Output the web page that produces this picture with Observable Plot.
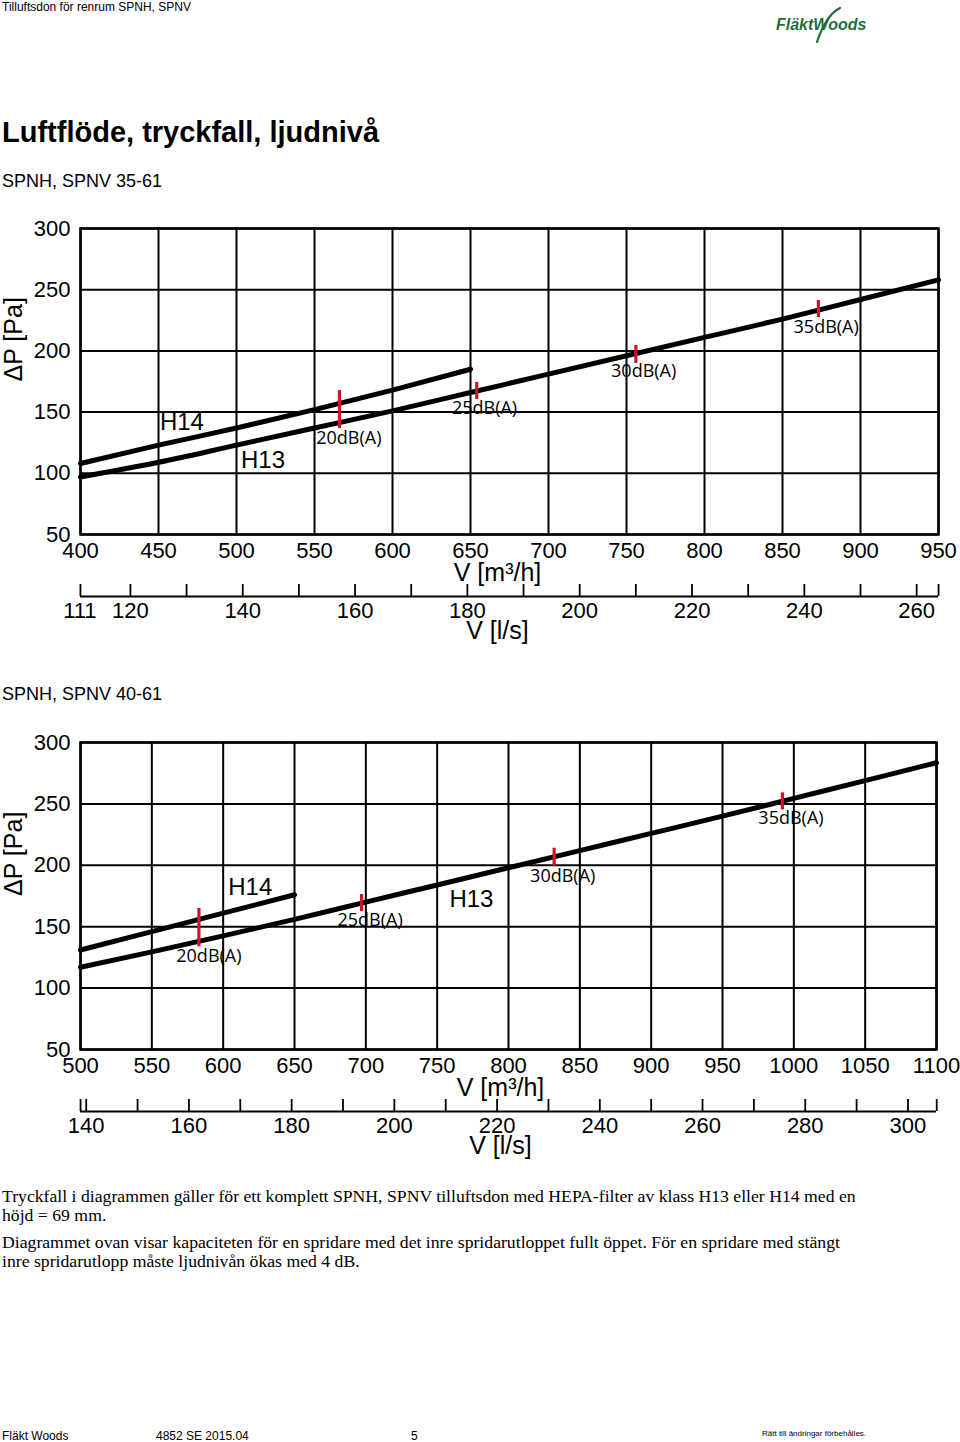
<!DOCTYPE html>
<html><head><meta charset="utf-8">
<script src="https://cdn.jsdelivr.net/npm/d3@7"></script>
<script src="https://cdn.jsdelivr.net/npm/@observablehq/plot@0.6"></script>
<style>
html,body{margin:0;padding:0;background:#fff}
body{width:960px;height:1442px;position:relative;overflow:hidden;font-family:"Liberation Sans",Arial,sans-serif;color:#000}
.abs{position:absolute;white-space:nowrap;margin:0}
.cap{font-family:"Liberation Serif","Times New Roman",serif;font-size:17.7px;line-height:19px;left:2px}
.foot{font-size:12px;line-height:12px;top:1430px}
</style></head><body>
<div class="abs" style="left:2px;top:1px;font-size:12px;line-height:12px">Tilluftsdon för renrum SPNH, SPNV</div>
<svg class="abs" style="left:760px;top:0" width="130" height="50">
  <path d="M80 8 C70 13 63 24 57 42" stroke="#1e6e3c" stroke-width="2.2" fill="none" stroke-linecap="round"/>
  <text x="16" y="30" font-family="Liberation Sans, Arial, sans-serif" font-weight="bold" font-style="italic" font-size="16" fill="#1e6e3c">FläktWoods</text>
</svg>
<div class="abs" style="left:2px;top:118px;font-size:29px;line-height:29px;font-weight:bold">Luftflöde, tryckfall, ljudnivå</div>
<div class="abs" style="left:2px;top:172px;font-size:18px;line-height:18px">SPNH, SPNV 35-61</div>
<div class="abs" id="c1" style="left:0;top:200px"></div>
<div class="abs" style="left:2px;top:685px;font-size:18px;line-height:18px">SPNH, SPNV 40-61</div>
<div class="abs" id="c2" style="left:0;top:715px"></div>
<p class="abs cap" style="top:1187px">Tryckfall i diagrammen gäller för ett komplett SPNH, SPNV tilluftsdon med HEPA-filter av klass H13 eller H14 med en<br>höjd = 69 mm.</p>
<p class="abs cap" style="top:1233px">Diagrammet ovan visar kapaciteten för en spridare med det inre spridarutloppet fullt öppet. För en spridare med stängt<br>inre spridarutlopp måste ljudnivån ökas med 4 dB.</p>
<div class="abs foot" style="left:2px">Fläkt Woods</div>
<div class="abs foot" style="left:156px">4852 SE 2015.04</div>
<div class="abs foot" style="left:411px">5</div>
<div class="abs" style="left:762px;top:1430px;font-size:8px;line-height:8px">Rätt till ändringar förbehålles.</div>
<script>
// ---- shared ----
const yTicks = [50, 100, 150, 200, 250, 300];
const yTitle = "ΔP [Pa]";
const xTitle = "V [m³/h]";
const lsTitle = "V [l/s]";

// ---- chart 1: SPNH, SPNV 35-61 ----
const c1_xTicks = [400, 450, 500, 550, 600, 650, 700, 750, 800, 850, 900, 950];
const c1_lsTicks = [111.1, 120, 130, 140, 150, 160, 170, 180, 190, 200, 210, 220, 230, 240, 250, 260, 263.9];
const c1_lsLabels = [111, 120, 140, 160, 180, 200, 220, 240, 260];
const c1_h14Flow = [400, 450, 500, 550, 600, 650];
const c1_h14Dp = [108, 123, 137, 152, 168, 185];
const c1_h13Flow = [400, 450, 500, 550, 600, 650, 700, 750, 800, 850, 900, 950];
const c1_h13Dp = [97, 109, 123, 137, 151, 166, 181, 196, 211, 226, 242, 258];
const c1_mkFlow = [566, 654, 756, 873];
const c1_mkTop = [167.6, 174.2, 204.4, 241.2];
const c1_mkBottom = [136.6, 160.3, 189.7, 227.3];
const c1_dbText = ["20dB(A)", "25dB(A)", "30dB(A)", "35dB(A)"];
const c1_dbFlow = [572, 659, 761, 878];
const c1_dbDp = [128.4, 153, 183, 219];
const c1_fText = ["H14", "H13"];
const c1_fFlow = [465, 517];
const c1_fDp = [142, 110.5];

// ---- chart 2: SPNH, SPNV 40-61 ----
const c2_xTicks = [500, 550, 600, 650, 700, 750, 800, 850, 900, 950, 1000, 1050, 1100];
const c2_lsTicks = [138.9, 140, 150, 160, 170, 180, 190, 200, 210, 220, 230, 240, 250, 260, 270, 280, 290, 300, 305.6];
const c2_lsLabels = [140, 160, 180, 200, 220, 240, 260, 280, 300];
const c2_h14Flow = [500, 550, 600, 650];
const c2_h14Dp = [131, 146, 161, 176];
const c2_h13Flow = [500, 550, 600, 650, 700, 750, 800, 850, 900, 950, 1000, 1050, 1100];
const c2_h13Dp = [117, 129.5, 142.5, 156, 170, 184, 198, 212, 226, 240, 254.5, 269, 283.5];
const c2_mkFlow = [583, 697, 832, 992];
const c2_mkTop = [164.8, 176.2, 213.9, 259];
const c2_mkBottom = [133.6, 162.3, 199.2, 245.1];
const c2_dbText = ["20dB(A)", "25dB(A)", "30dB(A)", "35dB(A)"];
const c2_dbFlow = [590, 703, 838, 998];
const c2_dbDp = [126, 155, 191, 238];
const c2_fText = ["H14", "H13"];
const c2_fFlow = [619, 774];
const c2_fDp = [182, 172];

const LS_PER_M3H = 1 / 3.6;

function makeChart(o) {
  const height = 450, marginTop = o.marginTop, marginBottom = 116;
  const frameH = height - marginTop - marginBottom;
  const h14 = o.h14Flow.map((f, i) => ({flow: f, dp: o.h14Dp[i]}));
  const h13 = o.h13Flow.map((f, i) => ({flow: f, dp: o.h13Dp[i]}));
  const mk = o.mkFlow.map((f, i) => ({flow: f, top: o.mkTop[i], bottom: o.mkBottom[i]}));
  const db = o.dbText.map((t, i) => ({label: t, flow: o.dbFlow[i], dp: o.dbDp[i]}));
  const fl = o.fText.map((t, i) => ({label: t, flow: o.fFlow[i], dp: o.fDp[i]}));
  const black = "#000";
  return Plot.plot({
    width: 960, height, marginLeft: 80, marginRight: o.marginRight, marginTop, marginBottom,
    x: {domain: [o.xTicks[0], o.xTicks[o.xTicks.length - 1]]},
    y: {domain: [yTicks[0], yTicks[yTicks.length - 1]]},
    style: {fontFamily: "Liberation Sans, Arial, sans-serif", fontSize: "22px", color: "#000", background: "transparent", overflow: "visible"},
    marks: [
      Plot.gridX(o.xTicks, {stroke: black, strokeOpacity: 1, strokeWidth: 2}),
      Plot.gridY(yTicks, {stroke: black, strokeOpacity: 1, strokeWidth: 2}),
      Plot.frame({stroke: black, strokeWidth: 2.5}),
      Plot.axisX(o.xTicks, {tickSize: 0, tickPadding: 8, fontSize: 22, tickFormat: "d", label: null}),
      Plot.axisY(yTicks, {tickSize: 0, tickPadding: 10, fontSize: 22, tickFormat: "d", label: null}),
      Plot.text([yTitle], {frameAnchor: "left", lineAnchor: "middle", dx: -67, rotate: -90, fontSize: 25}),
      Plot.text([xTitle], {frameAnchor: "bottom", lineAnchor: "middle", dx: o.titleDx, dy: 38, fontSize: 25}),
      // secondary flow axis in l/s
      Plot.ruleY([yTicks[0]], {dy: 62, stroke: black, strokeWidth: 2}),
      Plot.ruleX(o.lsTicks, {x: d => d / LS_PER_M3H, insetTop: frameH - 12, dy: 62, stroke: black, strokeWidth: 1.8}),
      Plot.text(o.lsLabels, {x: d => d / LS_PER_M3H, text: d => String(d), frameAnchor: "bottom", lineAnchor: "middle", dy: 76, fontSize: 22}),
      Plot.text([lsTitle], {frameAnchor: "bottom", lineAnchor: "middle", dx: o.titleDx, dy: 96, fontSize: 25}),
      // curves
      Plot.line(h14, {x: "flow", y: "dp", stroke: black, strokeWidth: 5, curve: "monotone-x"}),
      Plot.line(h13, {x: "flow", y: "dp", stroke: black, strokeWidth: 5, curve: "monotone-x"}),
      Plot.ruleX(mk, {x: "flow", y1: "top", y2: "bottom", stroke: "#d0142c", strokeWidth: 3.2}),
      Plot.text(db, {x: "flow", y: "dp", text: "label", fontFamily: "Open Sans, sans-serif", fontSize: 18}),
      Plot.text(fl, {x: "flow", y: "dp", text: "label", fontSize: 24})
    ]
  });
}

document.getElementById("c1").append(makeChart({
  marginTop: 28, marginRight: 22, titleDx: -12,
  xTicks: c1_xTicks, lsTicks: c1_lsTicks, lsLabels: c1_lsLabels,
  h14Flow: c1_h14Flow, h14Dp: c1_h14Dp, h13Flow: c1_h13Flow, h13Dp: c1_h13Dp,
  mkFlow: c1_mkFlow, mkTop: c1_mkTop, mkBottom: c1_mkBottom,
  dbText: c1_dbText, dbFlow: c1_dbFlow, dbDp: c1_dbDp,
  fText: c1_fText, fFlow: c1_fFlow, fDp: c1_fDp
}));
document.getElementById("c2").append(makeChart({
  marginTop: 27, marginRight: 24, titleDx: -8,
  xTicks: c2_xTicks, lsTicks: c2_lsTicks, lsLabels: c2_lsLabels,
  h14Flow: c2_h14Flow, h14Dp: c2_h14Dp, h13Flow: c2_h13Flow, h13Dp: c2_h13Dp,
  mkFlow: c2_mkFlow, mkTop: c2_mkTop, mkBottom: c2_mkBottom,
  dbText: c2_dbText, dbFlow: c2_dbFlow, dbDp: c2_dbDp,
  fText: c2_fText, fFlow: c2_fFlow, fDp: c2_fDp
}));
</script>
</body></html>
